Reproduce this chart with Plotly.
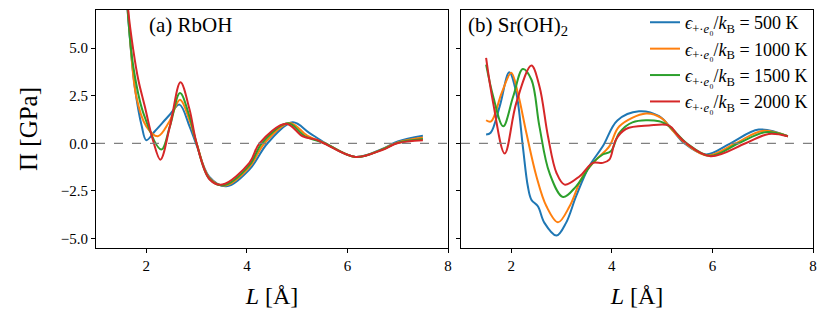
import plotly.graph_objects as go

# (a) RbOH
a_blue_x = [1.55, 1.65, 1.77, 1.91, 2.0, 2.17, 2.47, 2.66, 2.86, 3.0, 3.25, 3.59, 4.05, 4.41, 4.91, 5.24, 5.57, 6.16, 6.69, 7.0, 7.5]
a_blue_y = [10.5, 6.3, 2.99, 0.89, 0.16, 0.63, 1.51, 2.03, 0.89, -0.1, -1.75, -2.26, -1.38, 0.0, 1.10, 0.55, 0.0, -0.72, -0.3, 0.1, 0.40]
a_orange_x = [1.55, 1.65, 1.8, 2.0, 2.23, 2.45, 2.67, 2.86, 3.0, 3.25, 3.57, 4.05, 4.35, 4.85, 5.2, 5.55, 6.16, 6.69, 7.0, 7.5]
a_orange_y = [10.5, 6.5, 2.47, 0.89, 0.37, 1.1, 2.29, 1.2, 0.0, -1.8, -2.22, -1.25, 0.0, 1.07, 0.4, 0.0, -0.72, -0.32, 0.05, 0.3]
a_green_x = [1.55, 1.64, 1.74, 1.94, 2.3, 2.47, 2.67, 2.86, 3.0, 3.25, 3.54, 4.05, 4.3, 4.82, 5.15, 5.54, 6.16, 6.69, 7.0, 7.5]
a_green_y = [10.5, 6.6, 4.05, 1.6, -0.33, 0.9, 2.64, 1.4, 0.0, -1.85, -2.2, -1.15, 0.0, 1.05, 0.38, 0.0, -0.72, -0.33, 0.02, 0.22]
a_red_x = [1.55, 1.64, 1.74, 1.84, 1.97, 2.13, 2.28, 2.47, 2.68, 2.86, 3.0, 3.26, 3.51, 4.05, 4.25, 4.78, 5.11, 5.38, 5.53, 6.16, 6.69, 6.99, 7.5]
a_red_y = [10.5, 7.0, 4.92, 3.35, 1.94, 0.19, -0.86, 0.89, 3.2, 1.77, 0.0, -1.9, -2.17, -1.03, 0.0, 1.03, 0.37, 0.19, 0.0, -0.72, -0.35, 0.0, 0.16]

# (b) Sr(OH)2
b_blue_x = [1.5, 1.59, 1.77, 1.96, 2.1, 2.23, 2.33, 2.4, 2.53, 2.66, 2.9, 3.09, 3.29, 3.55, 3.82, 4.11, 4.54, 4.94, 5.2, 5.44, 5.87, 6.36, 6.92, 7.5]
b_blue_y = [0.46, 0.55, 1.94, 3.73, 2.65, -0.16, -2.26, -2.96, -3.31, -4.18, -4.85, -4.18, -2.78, -1.21, -0.16, 1.2, 1.68, 1.42, 0.72, 0.0, -0.59, 0.0, 0.72, 0.37]
b_orange_x = [1.5, 1.6, 1.81, 2.0, 2.13, 2.3, 2.5, 2.7, 2.93, 3.16, 3.42, 3.69, 3.95, 4.15, 4.68, 4.98, 5.2, 5.46, 5.9, 6.46, 6.99, 7.5]
b_orange_y = [1.21, 1.15, 2.65, 3.7, 2.65, 0.55, -1.73, -3.31, -4.15, -3.31, -1.73, -0.86, -0.16, 0.89, 1.56, 1.33, 0.7, 0.0, -0.64, 0.0, 0.65, 0.37]
b_green_x = [1.5, 1.64, 1.84, 2.04, 2.23, 2.4, 2.56, 2.76, 3.03, 3.29, 3.62, 3.82, 3.98, 4.15, 4.41, 4.94, 5.14, 5.49, 5.95, 6.52, 7.05, 7.5]
b_green_y = [4.13, 2.47, 0.89, 2.47, 3.9, 3.35, 0.89, -1.56, -2.82, -2.26, -1.03, -0.59, -0.42, 0.55, 1.1, 1.16, 0.9, 0.0, -0.66, 0.0, 0.58, 0.37]
b_red_x = [1.5, 1.64, 1.87, 2.1, 2.4, 2.56, 2.73, 2.9, 3.06, 3.36, 3.62, 3.82, 3.95, 4.08, 4.28, 4.74, 5.14, 5.3, 5.48, 5.96, 6.66, 7.12, 7.5]
b_red_y = [4.48, 2.12, -0.54, 2.12, 4.08, 3.0, 0.37, -1.56, -2.17, -1.73, -1.03, -1.03, -0.86, 0.19, 0.75, 0.93, 0.93, 0.46, 0.0, -0.68, 0.0, 0.49, 0.37]

temps = ["500", "1000", "1500", "2000"]
colors = ["#1f77b4", "#ff7f0e", "#2ca02c", "#d62728"]

panel_a = [(a_blue_x, a_blue_y), (a_orange_x, a_orange_y), (a_green_x, a_green_y), (a_red_x, a_red_y)]
panel_b = [(b_blue_x, b_blue_y), (b_orange_x, b_orange_y), (b_green_x, b_green_y), (b_red_x, b_red_y)]

FONT = "Liberation Serif"

fig = go.Figure()

for (x, y), c in zip(panel_a, colors):
    fig.add_trace(go.Scatter(x=x, y=y, mode="lines", line=dict(color=c, width=2, shape="spline", smoothing=1),
                             showlegend=False, xaxis="x", yaxis="y"))

for (x, y), c, t in zip(panel_b, colors, temps):
    name = "<i>ϵ</i><sub>+·<i>e</i>₀</sub>/<i>k</i><sub>B</sub> = " + t + " K"
    fig.add_trace(go.Scatter(x=x, y=y, mode="lines", line=dict(color=c, width=2, shape="spline", smoothing=1),
                             name=name, xaxis="x2", yaxis="y2"))

# dashed zero lines
for xa, ya in [("x", "y"), ("x2", "y2")]:
    fig.add_shape(type="line", xref=xa + " domain", yref=ya, x0=0, x1=1, y0=0, y1=0,
                  line=dict(color="gray", width=1.2, dash="dash"))

axis_common = dict(showline=True, linecolor="black", linewidth=1.2, mirror=True, ticks="outside",
                   ticklen=4, tickcolor="black", showgrid=False, zeroline=False,
                   tickfont=dict(family=FONT, size=15, color="black"))

xt = dict(text="<i>L</i> [Å]", font=dict(family=FONT, size=24, color="black"), standoff=14)

# page body has an 8px margin, so the figure is a bit smaller than the window
fig.update_layout(
    width=823, height=317,
    margin=dict(l=88, r=18, t=2, b=77, autoexpand=False),
    plot_bgcolor="white", paper_bgcolor="white",
    xaxis=dict(domain=[0, 0.491], range=[1, 8], tickvals=[2, 4, 6, 8], title=xt, anchor="y", **axis_common),
    yaxis=dict(domain=[0, 1], range=[-5.5, 7], tickvals=[-5, -2.5, 0, 2.5, 5],
               ticktext=["−5.0", "−2.5", "0.0", "2.5", "5.0"],
               title=dict(text="Π [GPa]", font=dict(family=FONT, size=25, color="black"), standoff=15),
               anchor="x", **axis_common),
    xaxis2=dict(domain=[0.509, 1], range=[1, 8], tickvals=[2, 4, 6, 8], title=xt, anchor="y2", **axis_common),
    yaxis2=dict(domain=[0, 1], range=[-5.5, 7], tickvals=[-5, -2.5, 0, 2.5, 5], showticklabels=False,
                anchor="x2", **axis_common),
    legend=dict(x=1, xanchor="right", y=1.025, yanchor="top", bgcolor="rgba(0,0,0,0)",
                font=dict(family=FONT, size=18, color="black")),
    annotations=[
        dict(text="(a) RbOH", xref="x domain", yref="y domain", x=0.145, y=0.995, xanchor="left", yanchor="top",
             showarrow=False, font=dict(family=FONT, size=21, color="black")),
        dict(text="(b) Sr(OH)<sub>2</sub>", xref="x2 domain", yref="y2 domain", x=0.015, y=0.995, xanchor="left",
             yanchor="top", showarrow=False, font=dict(family=FONT, size=21, color="black")),
    ],
)

fig.write_html("out.html")
